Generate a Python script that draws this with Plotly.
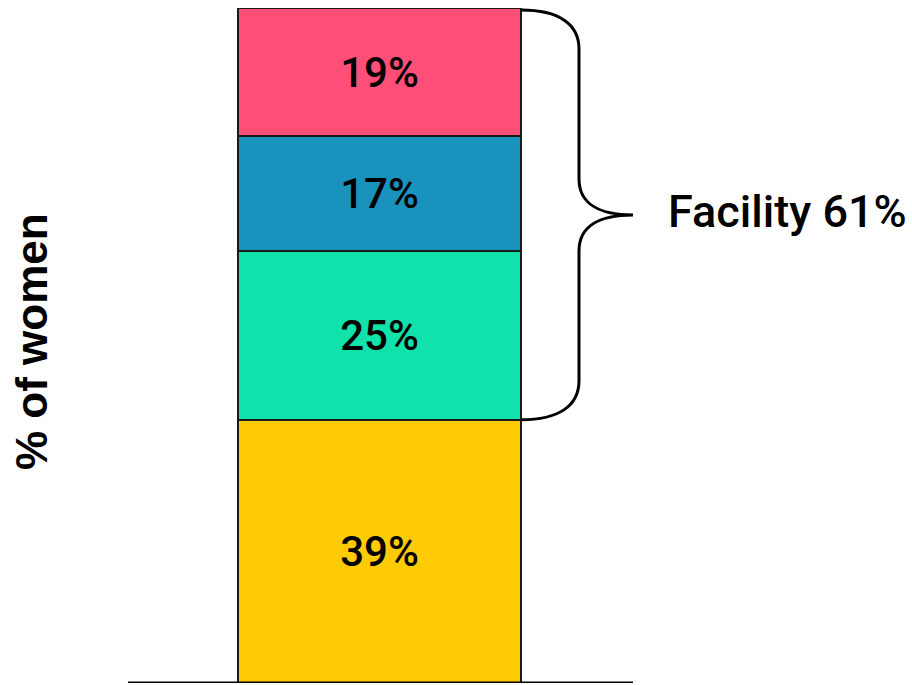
import plotly.graph_objects as go

# ---- data ----
categories = ["Home", "Facility A", "Facility B", "Facility C"]
values = [39, 25, 17, 19]
colors = ["#FFCB05", "#10E2AB", "#1993BD", "#FF4F79"]
facility_label = "Facility"
y_title = "% of women"

W, H = 912, 685
ML, MR, MT, MB = 100, 0, 8, 2
plot_w = W - ML - MR
bar_center_px = 379.5 - ML
bar_w_px = 283.0
x_lo = -bar_center_px / bar_w_px
x_hi = (plot_w - bar_center_px) / bar_w_px

fig = go.Figure()
for cat, v, c in zip(categories, values, colors):
    fig.add_trace(go.Bar(
        x=[0], y=[v], width=[1], name=cat,
        marker=dict(color=c, line=dict(color="#1a1a1a", width=2)),
        text=[f"{v}%"], textposition="inside", insidetextanchor="middle",
        textfont=dict(family="Roboto", size=42, color="#000000", weight=500),
        textangle=0, showlegend=False, hoverinfo="skip",
    ))

total = sum(values)
home = values[0]
fac_total = sum(values[1:])

ux = 1.0 / bar_w_px
uy = total / (H - MT - MB)
xr = 0.5  # bar right edge
top = total - 0.3
bot = home
mid = (top + bot) / 2
xs = xr + 58 * ux
xt = xr + 112 * ux

def P(x, y):
    return f"{x},{y}"

path = (
    f"M {P(xr, top)} "
    f"C {P(xr + 38*ux, top)} {P(xs, top - 14*uy)} {P(xs, top - 39*uy)} "
    f"L {P(xs, mid + 36*uy)} "
    f"C {P(xs, mid + 11*uy)} {P(xs + 21*ux, mid)} {P(xt, mid)} "
    f"C {P(xs + 21*ux, mid)} {P(xs, mid - 11*uy)} {P(xs, mid - 36*uy)} "
    f"L {P(xs, bot + 39*uy)} "
    f"C {P(xs, bot + 14*uy)} {P(xr + 38*ux, bot)} {P(xr, bot)}"
)
fig.add_shape(type="path", path=path, xref="x", yref="y",
              line=dict(color="#000000", width=3))

# baseline
fig.add_shape(type="line", xref="x", yref="y",
              x0=(128 - 379.5) * ux, x1=(633 - 379.5) * ux, y0=0, y1=0,
              line=dict(color="#000000", width=3))

fig.add_annotation(x=xr + 145 * ux, y=mid, xref="x", yref="y", yshift=3,
                   text=f"{facility_label} {fac_total}%", showarrow=False,
                   xanchor="left", yanchor="middle",
                   font=dict(family="Roboto", size=45, color="#000000", weight=500))

fig.add_annotation(x=(31 - ML) / plot_w, y=(H - MB - 342) / (H - MT - MB),
                   xref="paper", yref="paper", text=y_title, showarrow=False,
                   textangle=-90, xanchor="center", yanchor="middle",
                   font=dict(family="Liberation Sans", size=44, color="#000000", weight="bold"))

fig.update_layout(
    width=W, height=H, barmode="stack",
    margin=dict(l=ML, r=MR, t=MT, b=MB),
    paper_bgcolor="white", plot_bgcolor="white",
    xaxis=dict(range=[x_lo, x_hi], visible=False, fixedrange=True),
    yaxis=dict(range=[0, total], visible=False, fixedrange=True),
)

fig.write_html("out.html")
